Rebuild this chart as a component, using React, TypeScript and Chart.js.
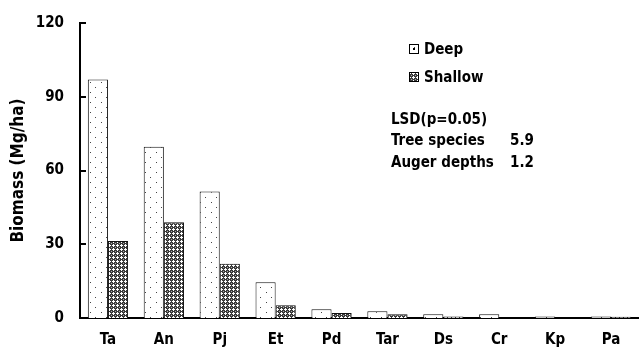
import React, { useEffect, useRef } from "react";
import { Chart, registerables } from "chart.js";

Chart.register(...registerables);

const categories = ["Ta", "An", "Pj", "Et", "Pd", "Tar", "Ds", "Cr", "Kp", "Pa"];
const deepValues = [97, 69.7, 51.5, 14.5, 3.6, 2.7, 1.5, 1.5, 0.6, 0.6];
const shallowValues = [31.3, 38.9, 22.1, 5.2, 2.0, 1.5, 0.6, 0, 0.1, 0.5];
const yTicks = [0, 30, 60, 90, 120];
const seriesNames = ["Deep", "Shallow"];
const lsdLines = [
  ["LSD(p=0.05)", ""],
  ["Tree species", "5.9"],
  ["Auger depths", "1.2"],
];

const FONT = "'DejaVu Sans Condensed', 'Liberation Sans Narrow', 'DejaVu Sans', sans-serif";

function makeDots(): CanvasPattern | string {
  const c = document.createElement("canvas");
  c.width = 11;
  c.height = 10;
  const g = c.getContext("2d")!;
  g.fillStyle = "#fff";
  g.fillRect(0, 0, 11, 10);
  g.fillStyle = "#444";
  g.fillRect(2, 2, 1, 1);
  g.fillRect(7, 7, 1, 1);
  return g.createPattern(c, "repeat") || "#fff";
}

function makeHatch(): CanvasPattern | string {
  const c = document.createElement("canvas");
  c.width = 4;
  c.height = 4;
  const g = c.getContext("2d")!;
  g.fillStyle = "#3a3a3a";
  g.fillRect(0, 0, 4, 4);
  g.fillStyle = "#fff";
  g.fillRect(1, 0, 1, 1);
  g.fillRect(0, 1, 3, 1);
  g.fillRect(1, 2, 1, 1);
  g.fillStyle = "#aaa";
  g.fillRect(3, 3, 1, 1);
  return g.createPattern(c, "repeat") || "#888";
}

export default function App() {
  const ref = useRef<HTMLCanvasElement | null>(null);

  useEffect(() => {
    if (!ref.current) return;
    const dots = makeDots();
    const hatch = makeHatch();
    const fills = [dots, hatch];

    const overlay = {
      id: "overlay",
      afterDraw(chart: any) {
        const ctx = chart.ctx as CanvasRenderingContext2D;
        const ys = chart.scales.y;
        const area = chart.chartArea;
        ctx.save();
        // inward tick marks
        ctx.strokeStyle = "#000";
        ctx.lineWidth = 2;
        yTicks.forEach((v) => {
          if (v === 0) return;
          const py = Math.round(ys.getPixelForValue(v));
          ctx.beginPath();
          ctx.moveTo(area.left, py);
          ctx.lineTo(area.left + 6, py);
          ctx.stroke();
        });
        // legend
        ctx.font = `bold 15px ${FONT}`;
        ctx.textBaseline = "middle";
        ctx.fillStyle = "#000";
        const lx = area.left + 329;
        seriesNames.forEach((name, i) => {
          const cy = 49 + i * 28;
          ctx.fillStyle = fills[i] as any;
          ctx.fillRect(lx, cy - 5, 10, 10);
          if (i === 0) {
            ctx.fillStyle = "#000";
            ctx.fillRect(lx + 4, cy - 1, 2, 2);
          }
          ctx.strokeStyle = "#000";
          ctx.lineWidth = 1;
          ctx.strokeRect(lx + 0.5, cy - 4.5, 9, 9);
          ctx.fillStyle = "#000";
          ctx.fillText(name, lx + 15, cy + 1);
        });
        // LSD text
        const tx = area.left + 311;
        lsdLines.forEach((row, i) => {
          const cy = 120 + i * 21.5;
          ctx.fillText(row[0], tx, cy);
          if (row[1]) ctx.fillText(row[1], tx + 119, cy);
        });
        ctx.restore();
      },
    };

    const chart = new Chart(ref.current, {
      type: "bar",
      data: {
        labels: categories,
        datasets: [
          {
            label: seriesNames[0],
            data: deepValues,
            backgroundColor: dots as any,
            borderColor: "#111",
            borderWidth: 1,
          },
          {
            label: seriesNames[1],
            data: shallowValues,
            backgroundColor: hatch as any,
            borderColor: "#111",
            borderWidth: 1,
          },
        ],
      },
      options: {
        animation: false,
        responsive: true,
        maintainAspectRatio: false,
        layout: { padding: { top: 23, right: 0, left: 0, bottom: 0 } },
        datasets: { bar: { categoryPercentage: 0.72, barPercentage: 1 } },
        plugins: {
          legend: { display: false },
          tooltip: { enabled: false },
        },
        scales: {
          x: {
            grid: { display: false },
            border: { display: true, color: "#000", width: 2 },
            ticks: {
              color: "#000",
              font: { family: FONT, size: 15, weight: "bold" },
              padding: 5,
              maxRotation: 0,
            },
            afterFit: (s: any) => {
              s.height = 38;
            },
          },
          y: {
            min: 0,
            max: 120,
            grid: { display: false },
            border: { display: true, color: "#000", width: 2 },
            afterBuildTicks: (s: any) => {
              s.ticks = yTicks.map((v) => ({ value: v }));
            },
            ticks: {
              color: "#000",
              font: { family: FONT, size: 15, weight: "bold" },
              padding: 8,
            },
            title: {
              display: true,
              text: "Biomass (Mg/ha)",
              color: "#000",
              font: { family: FONT, size: 17, weight: "bold" },
              padding: { top: 8, bottom: 0 },
            },
            afterFit: (s: any) => {
              s.width = 80;
            },
          },
        },
      },
      plugins: [overlay],
    });
    return () => chart.destroy();
  }, []);

  return (
    <div style={{ position: "absolute", left: 0, top: 0, width: 639, height: 356, background: "#fff" }}>
      <canvas ref={ref} />
    </div>
  );
}
